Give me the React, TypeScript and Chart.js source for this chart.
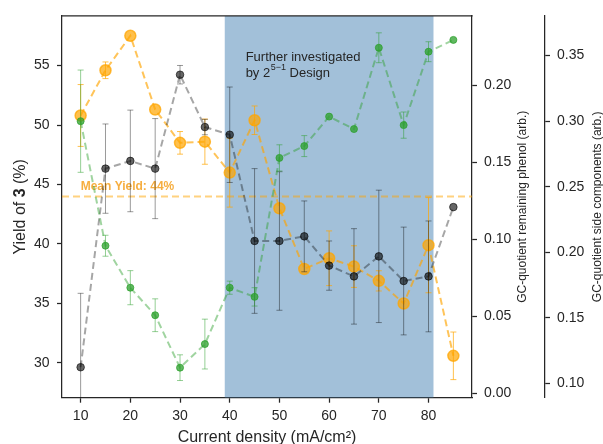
import React, { useEffect, useRef } from "react";
import { Chart, registerables } from "chart.js";

Chart.register(...registerables);

// ---------- data ----------
const currentDensity = [10, 15, 20, 25, 30, 35, 40, 45, 50, 55, 60, 65, 70, 75, 80, 85];
const yieldPct = [50.8, 54.6, 57.5, 51.3, 48.5, 48.6, 46.0, 50.4, 43.0, 37.9, 38.8, 38.1, 36.9, 35.0, 39.9, 30.6];
const yieldErr = [2.6, 0.7, 0, 0, 0.95, 1.9, 2.9, 1.2, 0, 0, 2.3, 1.75, 0.85, 0, 4.0, 2.0];
const phenol = [0.017, 0.146, 0.151, 0.146, 0.207, 0.173, 0.168, 0.099, 0.099, 0.102, 0.083, 0.076, 0.089, 0.073, 0.076, 0.121];
const phenolErr = [0.048, 0.029, 0.033, 0.0325, 0.006, 0.005, 0.031, 0.047, 0.045, 0.023, 0.016, 0.031, 0.043, 0.035, 0.036, 0];
const sideComp = [0.300, 0.205, 0.173, 0.152, 0.112, 0.130, 0.173, 0.166, 0.272, 0.281, 0.3035, 0.294, 0.356, 0.297, 0.353, 0.362];
const sideErr = [0.039, 0.008, 0.013, 0.0125, 0.0098, 0.019, 0.005, 0.007, 0.010, 0.008, 0, 0, 0.0114, 0.010, 0.0076, 0];
const meanYield = 44;
const spanStart = 39;
const spanEnd = 81;

const xTicks = [10, 20, 30, 40, 50, 60, 70, 80];
const yieldTicks = [30, 35, 40, 45, 50, 55];
const phenolTicks = [0, 0.05, 0.1, 0.15, 0.2];
const sideTicks = [0.1, 0.15, 0.2, 0.25, 0.3, 0.35];

const xLabel = "Current density (mA/cm²)";
const yLabelParts = ["Yield of ", "3", " (%)"];
const phenolLabel = "GC-quotient remaining phenol (arb.)";
const sideLabel = "GC-quotient side components (arb.)";
const annotLine1 = "Further investigated";
const annotLine2 = ["by 2", "5−1", " Design"];

// ---------- style ----------
const FONT = "'Liberation Sans', Arial, Helvetica, sans-serif";
const DARK = "#262626";

const decorPlugin = {
  id: "decor",
  beforeDatasetsDraw(chart: any) {
    const { ctx, chartArea: ca, scales } = chart;
    const xs = scales.x;
    const ys = scales.y;
    ctx.save();
    ctx.beginPath();
    ctx.rect(ca.left, ca.top, ca.right - ca.left, ca.bottom - ca.top);
    ctx.clip();
    const x0 = xs.getPixelForValue(spanStart);
    const x1 = xs.getPixelForValue(spanEnd);
    ctx.fillStyle = "rgba(70,130,180,0.5)";
    ctx.fillRect(x0, ca.top, x1 - x0, ca.bottom - ca.top);

    const ym = ys.getPixelForValue(meanYield);
    ctx.strokeStyle = "rgba(255,165,0,0.5)";
    ctx.lineWidth = 2;
    ctx.setLineDash([7, 4]);
    ctx.beginPath();
    ctx.moveTo(ca.left, ym);
    ctx.lineTo(ca.right, ym);
    ctx.stroke();
    ctx.setLineDash([]);

    ctx.fillStyle = "rgba(245,160,30,0.85)";
    ctx.font = `bold 12px ${FONT}`;
    ctx.textAlign = "left";
    ctx.textBaseline = "alphabetic";
    ctx.fillText(`Mean Yield: ${meanYield}%`, xs.getPixelForValue(10), ym - 6);
    ctx.restore();
  },
  beforeDatasetDraw(chart: any, args: any) {
    const ds = chart.data.datasets[args.index];
    const errs: number[] = ds.errors;
    if (!errs) return;
    const { ctx, chartArea: ca } = chart;
    const xs = chart.scales.x;
    const ys = chart.scales[ds.yAxisID];
    ctx.save();
    ctx.beginPath();
    ctx.rect(ca.left, ca.top, ca.right - ca.left, ca.bottom - ca.top);
    ctx.clip();
    ctx.strokeStyle = ds.errColor;
    ctx.lineWidth = 1;
    ds.data.forEach((p: any, i: number) => {
      const e = errs[i];
      if (!e) return;
      const px = xs.getPixelForValue(p.x);
      const pt = ys.getPixelForValue(p.y + e);
      const pb = ys.getPixelForValue(p.y - e);
      ctx.beginPath();
      ctx.moveTo(px, pt);
      ctx.lineTo(px, pb);
      ctx.moveTo(px - 3, pt);
      ctx.lineTo(px + 3, pt);
      ctx.moveTo(px - 3, pb);
      ctx.lineTo(px + 3, pb);
      ctx.stroke();
    });
    ctx.restore();
  },
  afterDraw(chart: any) {
    const { ctx, chartArea: ca, scales } = chart;
    const xs = scales.x;
    const ys = scales.y;
    ctx.save();
    // top spine
    ctx.strokeStyle = DARK;
    ctx.lineWidth = 1.25;
    ctx.beginPath();
    ctx.moveTo(ca.left - 0.6, ca.top);
    ctx.lineTo(ca.right + 0.6, ca.top);
    ctx.stroke();

    // annotation
    ctx.fillStyle = DARK;
    ctx.textAlign = "left";
    ctx.textBaseline = "alphabetic";
    const ax = xs.getPixelForValue(43.2);
    const ay = ys.getPixelForValue(55.4);
    ctx.font = `13px ${FONT}`;
    ctx.fillText(annotLine1, ax, ay);
    let cx = ax;
    const ay2 = ay + 16.5;
    ctx.fillText(annotLine2[0], cx, ay2);
    cx += ctx.measureText(annotLine2[0]).width + 0.5;
    ctx.font = `9px ${FONT}`;
    ctx.fillText(annotLine2[1], cx, ay2 - 7.5);
    cx += ctx.measureText(annotLine2[1]).width;
    ctx.font = `13px ${FONT}`;
    ctx.fillText(annotLine2[2], cx, ay2);

    const cy = (ca.top + ca.bottom) / 2;

    // x title
    ctx.font = `16px ${FONT}`;
    ctx.textAlign = "center";
    ctx.fillText(xLabel, (ca.left + ca.right) / 2, 441.5);

    // left title (mixed bold)
    const fonts = [`16px ${FONT}`, `bold 16px ${FONT}`, `16px ${FONT}`];
    const widths = yLabelParts.map((t, i) => {
      ctx.font = fonts[i];
      return ctx.measureText(t).width;
    });
    const total = widths.reduce((a, b) => a + b, 0);
    ctx.save();
    ctx.translate(24.5, cy);
    ctx.rotate(-Math.PI / 2);
    ctx.textAlign = "left";
    let tx = -total / 2;
    yLabelParts.forEach((t, i) => {
      ctx.font = fonts[i];
      ctx.fillText(t, tx, 0);
      tx += widths[i];
    });
    ctx.restore();

    // right titles
    ctx.font = `12px ${FONT}`;
    ctx.textAlign = "center";
    ctx.save();
    ctx.translate(scales.y1.left + 54, cy);
    ctx.rotate(-Math.PI / 2);
    ctx.fillText(phenolLabel, 0, 0);
    ctx.restore();
    ctx.save();
    ctx.translate(scales.y2.left + 56, cy);
    ctx.rotate(-Math.PI / 2);
    ctx.fillText(sideLabel, 0, 0);
    ctx.restore();

    ctx.restore();
  },
};

function axisCommon(padding: number) {
  return {
    grid: { drawOnChartArea: false, drawTicks: true, tickLength: 5, tickColor: DARK, tickWidth: 1.25 },
    border: { display: true, color: DARK, width: 1.25 },
    ticks: { color: DARK, font: { family: FONT, size: 14 }, padding, autoSkip: false, maxRotation: 0 },
  };
}

function setTicks(values: number[]) {
  return (s: any) => {
    s.ticks = values.map((v) => ({ value: v }));
  };
}

export default function App() {
  const ref = useRef<HTMLCanvasElement | null>(null);

  useEffect(() => {
    if (!ref.current) return;
    const toPts = (ys: number[]) => currentDensity.map((x, i) => ({ x, y: ys[i] }));
    const chart = new Chart(ref.current, {
      type: "line",
      data: {
        datasets: [
          {
            label: "side components",
            data: toPts(sideComp),
            yAxisID: "y2",
            borderColor: "rgba(44,160,44,0.45)",
            borderWidth: 2,
            borderDash: [7, 4],
            pointRadius: 3.5,
            pointBackgroundColor: "rgba(44,160,44,0.75)",
            pointBorderColor: "rgba(44,160,44,0.75)",
            pointBorderWidth: 1,
            tension: 0,
            fill: false,
            errors: sideErr,
            errColor: "rgba(44,160,44,0.5)",
          } as any,
          {
            label: "remaining phenol",
            data: toPts(phenol),
            yAxisID: "y1",
            borderColor: "rgba(0,0,0,0.35)",
            borderWidth: 2,
            borderDash: [7, 4],
            pointRadius: 3.8,
            pointBackgroundColor: "rgba(0,0,0,0.6)",
            pointBorderColor: "rgba(0,0,0,0.6)",
            pointBorderWidth: 1,
            tension: 0,
            fill: false,
            errors: phenolErr,
            errColor: "rgba(0,0,0,0.4)",
          } as any,
          {
            label: "yield",
            data: toPts(yieldPct),
            yAxisID: "y",
            borderColor: "rgba(255,165,0,0.65)",
            borderWidth: 2,
            borderDash: [7, 4],
            pointRadius: 5.5,
            pointBackgroundColor: "rgba(255,165,0,0.7)",
            pointBorderColor: "rgba(255,165,0,0.75)",
            pointBorderWidth: 1.5,
            tension: 0,
            fill: false,
            errors: yieldErr,
            errColor: "rgba(255,165,0,0.7)",
          } as any,
        ],
      },
      options: {
        responsive: false,
        animation: false,
        devicePixelRatio: 1,
        layout: { padding: { top: 13.3, left: 0, right: 0, bottom: 0 } },
        plugins: { legend: { display: false }, tooltip: { enabled: false } },
        events: [],
        scales: {
          x: {
            type: "linear",
            min: 6.25,
            max: 88.75,
            afterFit: (s: any) => {
              s.height = 46.3;
            },
            afterBuildTicks: setTicks(xTicks),
            ...axisCommon(5),
            ticks: { ...axisCommon(5).ticks, callback: (v: any) => String(v) },
          },
          y: {
            type: "linear",
            position: "left",
            min: 27.08,
            max: 59.17,
            afterFit: (s: any) => {
              s.width = 62;
            },
            afterBuildTicks: setTicks(yieldTicks),
            ...axisCommon(7.5),
            ticks: { ...axisCommon(7.5).ticks, callback: (v: any) => String(v) },
          },
          y1: {
            type: "linear",
            position: "right",
            weight: 0,
            min: -0.0028,
            max: 0.2452,
            afterFit: (s: any) => {
              s.width = 73;
            },
            afterBuildTicks: setTicks(phenolTicks),
            ...axisCommon(7),
            ticks: { ...axisCommon(7).ticks, callback: (v: any) => Number(v).toFixed(2) },
          },
          y2: {
            type: "linear",
            position: "right",
            weight: 1,
            min: 0.0891,
            max: 0.3803,
            afterFit: (s: any) => {
              s.width = 58;
            },
            afterBuildTicks: setTicks(sideTicks),
            ...axisCommon(7),
            ticks: { ...axisCommon(7).ticks, callback: (v: any) => Number(v).toFixed(2) },
          },
        } as any,
      },
      plugins: [decorPlugin],
    });
    return () => chart.destroy();
  }, []);

  return (
    <div style={{ position: "absolute", left: 0, top: 0, width: 603, height: 444, background: "#fff" }}>
      <canvas ref={ref} width={603} height={444} style={{ display: "block" }} />
    </div>
  );
}
